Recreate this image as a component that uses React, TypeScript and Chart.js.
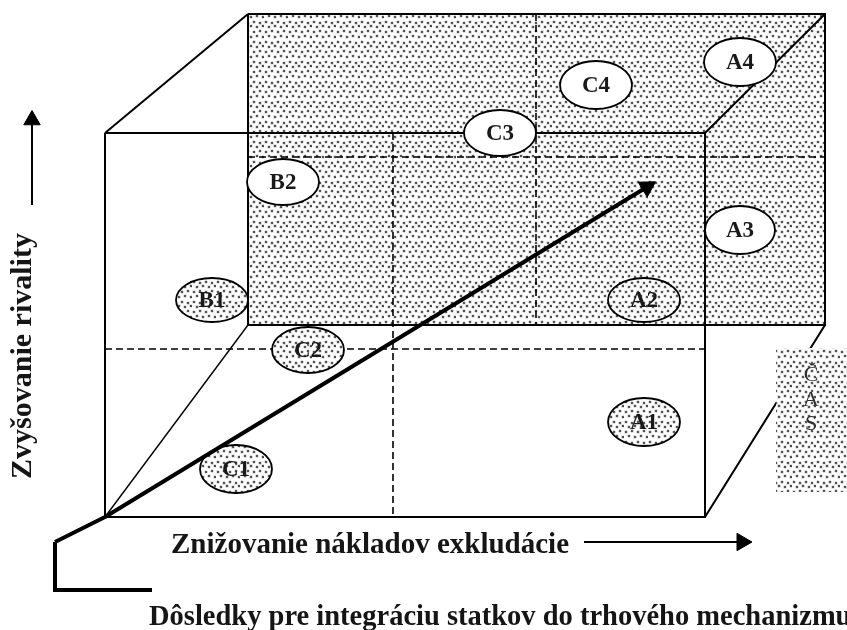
import React, { useEffect, useRef } from 'react';
import { Chart, registerables } from 'chart.js';

Chart.register(...registerables);

// ---- Diagram data (diagram units: x grows to the right, y grows downward) ----
const backBoxX = [248, 825];
const backBoxY = [14, 325];
const frontBoxX = [105, 705];
const frontBoxY = [133, 517];
const timeBoxX = [776, 847];
const timeBoxY = [348, 492];

// perspective edges joining the front and back faces: x1, y1, x2, y2
const depthEdges = [
  [105, 133, 248, 14],
  [705, 133, 825, 14],
  [705, 517, 825, 325],
];
const thinDepthEdge = [105, 517, 248, 325];
// dashed dividers: x1, y1, x2, y2
const dashedDividers = [
  [248, 157, 825, 157],
  [105, 349, 705, 349],
  [393, 133, 393, 517],
  [536, 14, 536, 325],
];

const mainArrowX = [55, 105, 647];
const mainArrowY = [542, 517, 187];
const bracketX = [55, 55, 152];
const bracketY = [542, 590, 590];
const riseArrowX = [32, 32];
const riseArrowY = [205, 120];
const costArrowX = [584, 742];
const costArrowY = [542, 542];

const ellipseLabels = ['B2', 'B1', 'C3', 'C4', 'A4', 'A3', 'A2', 'C2', 'C1', 'A1'];
const ellipseX = [283, 212, 500, 596, 740, 740, 644, 308, 236, 644];
const ellipseY = [182, 300, 133, 85, 62, 230, 300, 350, 469, 422];
const ellipseRX = [36, 36, 36, 36, 36, 35, 36, 36, 36, 36];
const ellipseRY = [23, 22, 23, 24, 24, 24, 22, 23, 24, 24];
const ellipseDotted = [false, true, false, false, false, false, true, true, true, true];

const rivalryTitle = 'Zvyšovanie rivality';
const costTitle = 'Znižovanie nákladov exkludácie';
const bottomTitle = 'Dôsledky pre integráciu statkov do trhového mechanizmu';
const timeLetters = ['Č', 'A', 'S'];
const timeLetterY = [381, 406, 430];
const timeLetterX = 811;

const SERIF = "'Liberation Serif', 'Times New Roman', serif";

function pts(xs: number[], ys: number[]) {
  return xs.map((x, i) => ({ x, y: ys[i] }));
}
function seg(s: number[]) {
  return [{ x: s[0], y: s[1] }, { x: s[2], y: s[3] }];
}
function rect(xs: number[], ys: number[]) {
  return [
    { x: xs[0], y: ys[0] },
    { x: xs[1], y: ys[0] },
    { x: xs[1], y: ys[1] },
    { x: xs[0], y: ys[1] },
    { x: xs[0], y: ys[0] },
  ];
}

function makePattern(ctx: CanvasRenderingContext2D) {
  const c = document.createElement('canvas');
  c.width = 24;
  c.height = 20;
  const g = c.getContext('2d')!;
  g.fillStyle = '#ffffff';
  g.fillRect(0, 0, 24, 20);
  const dots = [
    [1, 1], [7, 2], [13, 1], [19, 2],
    [4, 6], [10, 5], [16, 6], [22, 5],
    [1, 11], [7, 10], [13, 11], [19, 10],
    [4, 15], [10, 16], [16, 15], [22, 16],
  ];
  for (const [x, y] of dots) {
    g.fillStyle = 'rgba(0,0,0,0.15)';
    g.beginPath();
    g.arc(x + 1, y + 1, 2.0, 0, Math.PI * 2);
    g.fill();
    g.fillStyle = '#333333';
    g.beginPath();
    g.arc(x + 1, y + 1, 1.1, 0, Math.PI * 2);
    g.fill();
  }
  return ctx.createPattern(c, 'repeat')!;
}

function arrowLine(data: any[], width: number, r: number, rot: number, order: number, extra: any = {}) {
  const n = data.length;
  return {
    data,
    borderColor: '#000',
    borderWidth: width,
    pointStyle: 'triangle',
    pointRadius: (c: any) => (c.dataIndex === n - 1 ? r : 0),
    pointRotation: rot,
    pointBackgroundColor: '#000',
    pointBorderColor: '#000',
    pointBorderWidth: 1,
    fill: false,
    order,
    ...extra,
  };
}

export default function App() {
  const ref = useRef<HTMLCanvasElement>(null);

  useEffect(() => {
    document.body.style.margin = '0';
    const canvas = ref.current!;
    const ctx = canvas.getContext('2d')!;
    const pattern = makePattern(ctx);

    const plain = (data: any[], order: number, extra: any = {}) => ({
      data,
      borderColor: '#000',
      borderWidth: 2,
      pointRadius: 0,
      fill: false,
      borderJoinStyle: 'miter',
      order,
      ...extra,
    });

    const ellipsePlugin = {
      id: 'ellipses',
      beforeDatasetDraw(chart: any, args: any) {
        const ds = chart.data.datasets[args.index];
        if (!ds.ellipsesBefore) return;
        const xs = chart.scales.x;
        const ys = chart.scales.y;
        const c = chart.ctx;
        c.save();
        ellipseLabels.forEach((lab, i) => {
          const cx = xs.getPixelForValue(ellipseX[i]);
          const cy = ys.getPixelForValue(ellipseY[i]);
          const rx = Math.abs(xs.getPixelForValue(ellipseX[i] + ellipseRX[i]) - cx);
          const ry = Math.abs(ys.getPixelForValue(ellipseY[i] + ellipseRY[i]) - cy);
          c.beginPath();
          c.ellipse(cx, cy, rx, ry, 0, 0, Math.PI * 2);
          c.fillStyle = ellipseDotted[i] ? pattern : '#ffffff';
          c.fill();
          c.lineWidth = 1.8;
          c.strokeStyle = '#000';
          c.stroke();
          c.fillStyle = '#1a1a1a';
          c.font = `bold 23px ${SERIF}`;
          c.textAlign = 'center';
          c.textBaseline = 'middle';
          c.fillText(lab, cx, cy + 1);
        });
        c.restore();
      },
    };

    const textPlugin = {
      id: 'diagramTexts',
      afterDraw(chart: any) {
        const xs = chart.scales.x;
        const ys = chart.scales.y;
        const c = chart.ctx;
        c.save();
        c.fillStyle = '#151515';
        c.textBaseline = 'alphabetic';
        // vertical title
        c.save();
        c.translate(xs.getPixelForValue(31), ys.getPixelForValue(356));
        c.rotate(-Math.PI / 2);
        c.font = `bold 30px ${SERIF}`;
        c.textAlign = 'center';
        c.fillText(rivalryTitle, 0, 0);
        c.restore();
        c.font = `bold 29px ${SERIF}`;
        c.textAlign = 'left';
        c.fillText(costTitle, xs.getPixelForValue(171), ys.getPixelForValue(553));
        c.font = `bold 28.5px ${SERIF}`;
        c.fillText(bottomTitle, xs.getPixelForValue(149), ys.getPixelForValue(625));
        c.font = `22px ${SERIF}`;
        c.fillStyle = '#2e2e2e';
        c.textAlign = 'center';
        timeLetters.forEach((t, i) => {
          c.fillText(t, xs.getPixelForValue(timeLetterX), ys.getPixelForValue(timeLetterY[i]));
        });
        c.restore();
      },
    };

    const datasets: any[] = [
      // stippled back face
      {
        data: [{ x: backBoxX[0], y: backBoxY[0] }, { x: backBoxX[1], y: backBoxY[0] }],
        fill: { value: backBoxY[1] },
        backgroundColor: pattern,
        borderWidth: 0,
        pointRadius: 0,
        order: 20,
      },
      plain(rect(backBoxX, backBoxY), 15),
      plain(rect(frontBoxX, frontBoxY), 15),
      ...depthEdges.map((s) => plain(seg(s), 15)),
      plain(seg(thinDepthEdge), 15, { borderWidth: 1.4 }),
      ...dashedDividers.map((s) => plain(seg(s), 15, { borderWidth: 1.6, borderDash: [7, 4] })),
      // stippled time box
      {
        data: [{ x: timeBoxX[0], y: timeBoxY[0] }, { x: timeBoxX[1], y: timeBoxY[0] }],
        fill: { value: timeBoxY[1] },
        backgroundColor: pattern,
        borderWidth: 0,
        pointRadius: 0,
        order: 12,
      },
      arrowLine(pts(mainArrowX, mainArrowY), 4, 10, 58.7, 5, { ellipsesBefore: true, borderJoinStyle: 'round' }),
      plain(pts(bracketX, bracketY), 4, { borderWidth: 4 }),
      arrowLine(pts(riseArrowX, riseArrowY), 2, 9.5, 0, 4),
      arrowLine(pts(costArrowX, costArrowY), 2, 10, 90, 4),
    ];

    const chart = new Chart(canvas, {
      type: 'line',
      data: { datasets },
      options: {
        animation: false,
        responsive: false,
        devicePixelRatio: 1,
        layout: { padding: 0, autoPadding: false },
        events: [],
        clip: false,
        scales: {
          x: { type: 'linear', min: 0, max: 847, display: false },
          y: { type: 'linear', min: 0, max: 630, reverse: true, display: false },
        },
        plugins: {
          legend: { display: false },
          tooltip: { enabled: false },
          title: { display: false },
        },
        elements: { line: { tension: 0 } },
      } as any,
      plugins: [ellipsePlugin, textPlugin],
    });
    return () => chart.destroy();
  }, []);

  return (
    <div style={{ width: 847, height: 630, background: '#fff' }}>
      <canvas ref={ref} width={847} height={630} style={{ display: 'block', width: 847, height: 630 }} />
    </div>
  );
}
